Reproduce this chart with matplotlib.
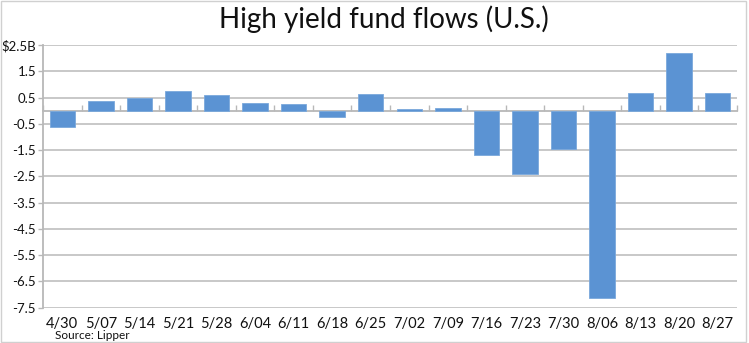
import matplotlib
matplotlib.use("Agg")
import matplotlib.pyplot as plt
import numpy as np

plt.rcParams['font.family'] = ['Lato', 'DejaVu Sans']

weeks = ["4/30", "5/07", "5/14", "5/21", "5/28", "6/04", "6/11", "6/18", "6/25",
         "7/02", "7/09", "7/16", "7/23", "7/30", "8/06", "8/13", "8/20", "8/27"]
flows = [-0.63, 0.37, 0.47, 0.75, 0.59, 0.30, 0.27, -0.23, 0.62,
         0.08, 0.11, -1.69, -2.41, -1.46, -7.12, 0.69, 2.21, 0.66]
yticks = [2.5, 1.5, 0.5, -0.5, -1.5, -2.5, -3.5, -4.5, -5.5, -6.5, -7.5]
ytick_labels = ["$2.5B", "1.5", "0.5", "-0.5", "-1.5", "-2.5", "-3.5",
                "-4.5", "-5.5", "-6.5", "-7.5"]

axis_grey = '#b8b8b8'

fig = plt.figure(figsize=(7.49, 3.43), dpi=100)
fig.patch.set_facecolor('white')
ax = fig.add_axes([0.0574, 0.1029, 0.9266, 0.7659])

x = np.arange(len(weeks))
ax.bar(x, flows, width=0.66, color='#5b93d3', edgecolor='#7aa8dc',
       linewidth=0.6, zorder=3)

ax.set_xlim(-0.5, len(weeks) - 0.5)
ax.set_ylim(-7.5, 2.5)

# horizontal gridlines
ax.set_yticks(yticks)
ax.set_yticklabels(ytick_labels, fontsize=9.5, color='#111111')
ax.yaxis.grid(True, color='#c4c4c4', linewidth=1.3, zorder=0)
ax.tick_params(axis='y', length=3.5, width=1, color=axis_grey, pad=1.5)

# category labels along the bottom, no tick marks
ax.set_xticks(x)
ax.set_xticklabels(weeks, fontsize=10.5, color='#111111')
ax.tick_params(axis='x', length=0, pad=7)

for side in ['top', 'right', 'bottom']:
    ax.spines[side].set_visible(False)
ax.spines['left'].set_color(axis_grey)
ax.spines['left'].set_linewidth(1.3)

# zero axis with ticks between categories
zero_frac = (0 - ax.get_ylim()[0]) / (ax.get_ylim()[1] - ax.get_ylim()[0])
sec = ax.secondary_xaxis(zero_frac)
sec.set_xticks(np.arange(len(weeks) + 1) - 0.5)
sec.set_xticklabels([])
sec.tick_params(axis='x', length=4, width=1, color=axis_grey, direction='out')
for sp in sec.spines.values():
    sp.set_color(axis_grey)
    sp.set_linewidth(1.3)

fig.text(0.513, 0.945, "High yield fund flows (U.S.)", ha='center', va='center',
         fontsize=20, color='#111111')
fig.text(0.073, 0.006, "Source: Lipper", ha='left', va='bottom',
         fontsize=8.5, color='#111111')

# light frame around the chart
fig.patches.append(plt.Rectangle((0.001, 0.002), 0.995, 0.995, transform=fig.transFigure,
                                 fill=False, edgecolor='#d0d0d0', linewidth=1))

fig.savefig("out.png", dpi=100, facecolor='white')
